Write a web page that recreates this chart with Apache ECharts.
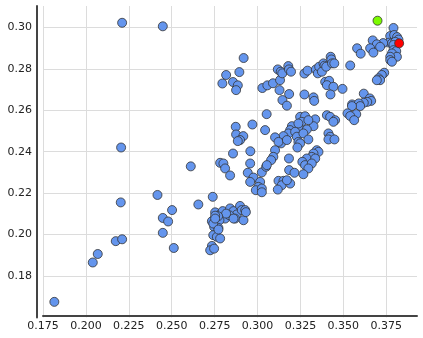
<!DOCTYPE html>
<html lang="en">
<head>
    <meta charset="UTF-8">
    <title>scatter</title>
    <script type="text/javascript" src="https://cdn.jsdelivr.net/npm/echarts@6.0.0/dist/echarts.min.js"></script>
    <style>
        html, body { margin: 0; padding: 0; background: #fff; }
    </style>
</head>
<body>
<div id="main" style="width: 423px;height: 338px;"></div>

<script type="text/javascript">

    // tick labels
    var xTicks = ['0.175', '0.200', '0.225', '0.250', '0.275', '0.300', '0.325', '0.350', '0.375'];
    var yTicks = ['0.18', '0.20', '0.22', '0.24', '0.26', '0.28', '0.30'];

    // scattered points on the left
    var sparse = [
        [0.1816,0.1675],[0.2040,0.1865],[0.2069,0.1906],[0.2174,0.1968],[0.2211,0.1977],[0.2203,0.2155],
        [0.2205,0.2420],[0.2211,0.3022],[0.2448,0.3005],[0.2417,0.2191],[0.2448,0.2080],[0.2479,0.2063],
        [0.2502,0.2118],[0.2448,0.2008],[0.2512,0.1935],[0.2655,0.2145],[0.2611,0.2329],[0.2739,0.2182]
    ];

    // dense group at the bottom left
    var lowCluster = [
        [0.2753,0.2107],[0.2782,0.2097],[0.2797,0.2113],[0.2811,0.2077],[0.2734,0.2064],[0.2763,0.2061],
        [0.2778,0.2069],[0.2747,0.2037],[0.2772,0.2032],[0.2840,0.2126],[0.2860,0.2113],[0.2879,0.2097],
        [0.2836,0.2093],[0.2869,0.2077],[0.2898,0.2138],[0.2908,0.2118],[0.2928,0.2118],[0.2918,0.2069],
        [0.2817,0.2101],[0.2742,0.2053],[0.2770,0.2088],[0.2753,0.2091],[0.2932,0.2108],[0.2860,0.2077],
        [0.2742,0.1997],[0.2763,0.1989],[0.2782,0.1981],[0.2734,0.1945],[0.2724,0.1924],[0.2747,0.1932],
        [0.2772,0.2024],[0.2753,0.2077]
    ];

    // middle band
    var midCluster = [
        [0.2873,0.2520],[0.2970,0.2531],[0.2875,0.2483],[0.2917,0.2475],[0.2898,0.2456],[0.2885,0.2451],
        [0.2857,0.2391],[0.2958,0.2402],[0.2782,0.2346],[0.2801,0.2343],[0.2811,0.2319],[0.2840,0.2285],
        [0.2957,0.2343],[0.2943,0.2298],[0.2976,0.2275],[0.3025,0.2300],[0.3050,0.2327],[0.2957,0.2254],
        [0.3015,0.2254],[0.3005,0.2230],[0.2990,0.2214],[0.3025,0.2222],[0.3025,0.2204],
        [0.3053,0.2581],[0.3044,0.2504],[0.3248,0.2568],[0.3277,0.2571],[0.3258,0.2544],[0.3336,0.2556],
        [0.3326,0.2523],[0.3287,0.2507],[0.3238,0.2520],[0.3200,0.2523],[0.3190,0.2504],[0.3180,0.2488],
        [0.3219,0.2496],[0.3229,0.2472],[0.3267,0.2488],[0.3296,0.2459],[0.3238,0.2447],[0.3248,0.2440],
        [0.3232,0.2420],[0.3151,0.2475],[0.3137,0.2440],[0.3102,0.2469],[0.3122,0.2447],[0.3171,0.2456],
        [0.3296,0.2552],[0.3238,0.2536],
        [0.3404,0.2576],[0.3423,0.2568],[0.3452,0.2552],[0.3442,0.2544],[0.3413,0.2488],[0.3423,0.2472],
        [0.3413,0.2459],[0.3448,0.2459],
        [0.3102,0.2407],[0.3092,0.2375],[0.3079,0.2359],[0.3054,0.2335],[0.3183,0.2367],[0.3345,0.2407],
        [0.3355,0.2399],[0.3326,0.2391],[0.3316,0.2375],[0.3287,0.2367],[0.3336,0.2367],[0.3261,0.2351],
        [0.3277,0.2335],[0.3316,0.2343],[0.3296,0.2319],[0.3184,0.2311],[0.3215,0.2298],[0.3267,0.2291],
        [0.3122,0.2259],[0.3151,0.2259],[0.3141,0.2238],[0.3190,0.2246],[0.3118,0.2217],[0.3171,0.2262]
    ];

    // upper band
    var highCluster = [
        [0.2919,0.2852],[0.2894,0.2784],[0.2817,0.2770],[0.2795,0.2729],[0.2857,0.2736],[0.2885,0.2720],
        [0.2875,0.2697],
        [0.3028,0.2707],[0.3057,0.2720],[0.3090,0.2730],[0.3131,0.2745],[0.3118,0.2797],[0.3135,0.2786],
        [0.3144,0.2778],[0.3179,0.2813],[0.3183,0.2797],[0.3195,0.2786],[0.3128,0.2697],[0.3184,0.2678],
        [0.3145,0.2649],[0.3171,0.2622],
        [0.3273,0.2777],[0.3291,0.2791],[0.3340,0.2797],[0.3351,0.2778],[0.3359,0.2810],[0.3384,0.2826],
        [0.3390,0.2815],[0.3375,0.2786],[0.3400,0.2810],[0.3426,0.2858],[0.3430,0.2845],[0.3434,0.2826],
        [0.3447,0.2826],
        [0.3394,0.2737],[0.3417,0.2742],[0.3404,0.2721],[0.3442,0.2713],[0.3495,0.2703],[0.3425,0.2676],
        [0.3273,0.2676],[0.3326,0.2662],[0.3330,0.2645]
    ];

    // top right corner
    var topRight = [
        [0.3792,0.2997],[0.3773,0.2958],[0.3796,0.2963],[0.3813,0.2953],[0.3821,0.2941],[0.3767,0.2926],
        [0.3783,0.2923],[0.3802,0.2930],[0.3732,0.2924],[0.3671,0.2937],[0.3695,0.2918],[0.3714,0.2906],
        [0.3656,0.2899],[0.3675,0.2878],[0.3580,0.2899],[0.3601,0.2873],[0.3792,0.2915],[0.3792,0.2890],
        [0.3808,0.2885],[0.3783,0.2874],[0.3812,0.2858],[0.3773,0.2858],[0.3773,0.2842],[0.3783,0.2834],
        [0.3738,0.2781],[0.3724,0.2770],[0.3705,0.2754],[0.3714,0.2745],[0.3695,0.2745],[0.3540,0.2816],
        [0.3619,0.2680],[0.3654,0.2657],[0.3662,0.2645],[0.3639,0.2640],[0.3619,0.2636],[0.3551,0.2628],
        [0.3590,0.2633],[0.3598,0.2620],[0.3550,0.2620],[0.3524,0.2585],[0.3575,0.2581],[0.3540,0.2572],
        [0.3563,0.2552]
    ];

    var greenPoint = [[0.3699, 0.3032]];
    var redPoint = [[0.3825, 0.2923]];

    var bluePoints = sparse.concat(lowCluster, midCluster, highCluster, topRight);

    var labelFont = {
        color: '#222',
        fontSize: 11,
        fontFamily: 'DejaVu Sans'
    };

    var chart = echarts.init(document.getElementById('main'));
    chart.setOption({
        animation: false,
        grid: { left: 43, right: 6, top: 6, bottom: 20.6 },
        xAxis: {
            type: 'value',
            min: 0.175,
            max: 0.3929,
            interval: 0.025,
            offset: -2,
            axisLine: { show: true, lineStyle: { color: '#444', width: 2 } },
            axisTick: { show: false },
            axisLabel: Object.assign({
                margin: 5,
                showMaxLabel: false,
                formatter: function (v) {
                    var s = v.toFixed(3);
                    return xTicks.indexOf(s) >= 0 ? s : '';
                }
            }, labelFont),
            splitLine: { show: true, showMinLine: true, showMaxLine: false, lineStyle: { color: '#dcdcdc', width: 1 } }
        },
        yAxis: {
            type: 'value',
            min: 0.16,
            max: 0.3103,
            interval: 0.02,
            offset: 6,
            axisLine: { show: true, lineStyle: { color: '#444', width: 2 } },
            axisTick: { show: false },
            axisLabel: Object.assign({
                margin: 5,
                showMinLabel: false,
                showMaxLabel: false,
                formatter: function (v) {
                    var s = v.toFixed(2);
                    return yTicks.indexOf(s) >= 0 ? s : '';
                }
            }, labelFont),
            splitLine: { show: true, showMinLine: false, showMaxLine: false, lineStyle: { color: '#dcdcdc', width: 1 } }
        },
        series: [
            {
                type: 'scatter',
                data: bluePoints,
                symbolSize: 9,
                itemStyle: { color: '#6495ED', borderColor: '#333', borderWidth: 0.8, opacity: 1 }
            },
            {
                type: 'scatter',
                data: greenPoint,
                symbolSize: 9,
                itemStyle: { color: '#7CFC00', borderColor: '#333', borderWidth: 0.8, opacity: 1 }
            },
            {
                type: 'scatter',
                data: redPoint,
                symbolSize: 9,
                itemStyle: { color: '#FF0000', borderColor: '#333', borderWidth: 0.8, opacity: 1 }
            }
        ]
    });
</script>
</body>
</html>
